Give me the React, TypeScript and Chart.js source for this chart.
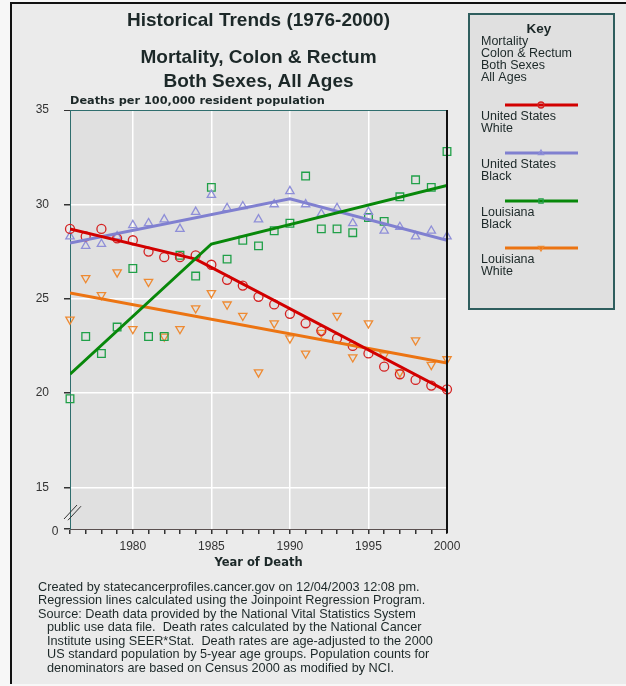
import React, { useEffect, useRef } from 'react';
import { Chart, registerables } from 'chart.js';

Chart.register(...registerables);

// ---------- data ----------
const years = [1976, 1977, 1978, 1979, 1980, 1981, 1982, 1983, 1984, 1985, 1986, 1987, 1988,
  1989, 1990, 1991, 1992, 1993, 1994, 1995, 1996, 1997, 1998, 1999, 2000];

const usWhite = [28.7, 28.3, 28.7, 28.2, 28.1, 27.5, 27.2, 27.2, 27.3, 26.8, 26.0, 25.7, 25.1,
  24.7, 24.2, 23.7, 23.3, 22.9, 22.5, 22.1, 21.4, 21.0, 20.7, 20.4, 20.2];
const usBlack = [28.3, 27.8, 27.9, 28.3, 28.9, 29.0, 29.2, 28.7, 29.6, 30.5, 29.8, 29.9, 29.2,
  30.0, 30.7, 30.0, 29.5, 29.8, 29.0, 29.6, 28.6, 28.8, 28.3, 28.6, 28.3];
const laBlack = [19.7, 23.0, 22.1, 23.5, 26.6, 23.0, 23.0, 27.3, 26.2, 30.9, 27.1, 28.1, 27.8,
  28.6, 29.0, 31.5, 28.7, 28.7, 28.5, 29.3, 29.1, 30.4, 31.3, 30.9, 32.8];
const laWhite = [23.9, 26.1, 25.2, 26.4, 23.4, 25.9, 23.0, 23.4, 24.5, 25.3, 24.7, 24.1, 21.1,
  23.7, 22.9, 22.1, 23.2, 24.1, 21.9, 23.7, 22.0, 21.1, 22.8, 21.5, 21.8];

// joinpoint regression lines
const usWhiteFitYears = [1976, 1984, 2000];
const usWhiteFit = [28.7, 27.1, 20.1];
const usBlackFitYears = [1976, 1990, 2000];
const usBlackFit = [27.95, 30.3, 28.1];
const laBlackFitYears = [1976, 1985, 2000];
const laBlackFit = [21.0, 27.9, 31.0];
const laWhiteFitYears = [1976, 2000];
const laWhiteFit = [25.3, 21.6];

const xTickLabels = ['1980', '1985', '1990', '1995', '2000'];
const yTickValues = [15, 20, 25, 30, 35];
const yBrokenBaseLabel = '0';

const seriesNames = [
  ['United States', 'White'],
  ['United States', 'Black'],
  ['Louisiana', 'Black'],
  ['Louisiana', 'White'],
];

const titleLines = ['Historical Trends (1976-2000)', 'Mortality, Colon & Rectum', 'Both Sexes, All Ages'];
const yAxisTitle = 'Deaths per 100,000 resident population';
const xAxisTitle = 'Year of Death';
const keyLines = ['Mortality', 'Colon & Rectum', 'Both Sexes', 'All Ages'];
const footerLines = [
  'Created by statecancerprofiles.cancer.gov on 12/04/2003 12:08 pm.',
  'Regression lines calculated using the Joinpoint Regression Program.',
  'Source: Death data provided by the National Vital Statistics System',
  'public use data file.  Death rates calculated by the National Cancer',
  'Institute using SEER*Stat.  Death rates are age-adjusted to the 2000',
  'US standard population by 5-year age groups. Population counts for',
  'denominators are based on Census 2000 as modified by NCI.',
];

// ---------- styles ----------
const FONT = "'Liberation Sans', Arial, sans-serif";
const WIDE_BOLD = "'DejaVu Sans', Verdana, sans-serif";
const lineColors = ['#d20000', '#8080d0', '#08880a', '#ec7412'];
const markColors = ['#d42222', '#8f8fd8', '#20a048', '#ee8a32'];
const markStyles = ['circle', 'triangle', 'rect', 'triangle'];
const markRot = [0, 0, 0, 180];
const markRadius = [4.5, 4.8, 5.4, 4.8];
const Y_MIN = 12.8;
const Y_MAX = 35;
const TEXT = '#1c2828';

function pts(xs: number[], ys: number[]) {
  return xs.map((x, i) => ({ x, y: ys[i] }));
}

function drawMark(ctx: CanvasRenderingContext2D, i: number, x: number, y: number, r: number) {
  ctx.save();
  ctx.strokeStyle = markColors[i];
  ctx.lineWidth = 1.3;
  ctx.beginPath();
  if (i === 0) {
    ctx.arc(x, y, r, 0, Math.PI * 2);
  } else if (i === 1) {
    ctx.moveTo(x, y - r);
    ctx.lineTo(x + r * 0.87, y + r * 0.5);
    ctx.lineTo(x - r * 0.87, y + r * 0.5);
    ctx.closePath();
  } else if (i === 2) {
    ctx.rect(x - r * 0.7, y - r * 0.7, r * 1.4, r * 1.4);
  } else {
    ctx.moveTo(x, y + r);
    ctx.lineTo(x + r * 0.87, y - r * 0.5);
    ctx.lineTo(x - r * 0.87, y - r * 0.5);
    ctx.closePath();
  }
  ctx.stroke();
  ctx.restore();
}

const decorPlugin = {
  id: 'decor',
  beforeDraw(chart: any) {
    const { ctx, chartArea, width, height } = chart;
    ctx.save();
    ctx.fillStyle = '#f7f7f7';
    ctx.fillRect(0, 0, width, height);
    ctx.fillStyle = '#ebebeb';
    ctx.fillRect(11, 3, width - 11, 681);
    ctx.strokeStyle = '#111';
    ctx.lineWidth = 2;
    ctx.beginPath();
    ctx.moveTo(11, 684);
    ctx.lineTo(11, 3);
    ctx.lineTo(width, 3);
    ctx.stroke();
    ctx.fillStyle = '#e0e0e0';
    ctx.fillRect(chartArea.left, chartArea.top, chartArea.right - chartArea.left, chartArea.bottom - chartArea.top);
    ctx.restore();
  },
  afterDraw(chart: any) {
    const { ctx, chartArea } = chart;
    const yScale = chart.scales.y;
    ctx.save();
    ctx.fillStyle = TEXT;
    ctx.textBaseline = 'middle';
    const cx = (chartArea.left + chartArea.right) / 2;

    // titles
    ctx.textAlign = 'center';
    ctx.font = `bold 19px ${FONT}`;
    ctx.fillText(titleLines[0], cx, 21);
    ctx.fillText(titleLines[1], cx, 58);
    ctx.fillText(titleLines[2], cx, 82);
    ctx.font = `bold 11.3px ${WIDE_BOLD}`;
    ctx.textAlign = 'left';
    ctx.fillText(yAxisTitle, chartArea.left, 101);
    ctx.textAlign = 'center';
    ctx.font = `bold 11.5px ${WIDE_BOLD}`;
    ctx.fillText(xAxisTitle, cx, 563);

    // right border
    ctx.strokeStyle = '#111';
    ctx.lineWidth = 2;
    ctx.beginPath();
    ctx.moveTo(chartArea.right, chartArea.top);
    ctx.lineTo(chartArea.right, chartArea.bottom + 4);
    ctx.stroke();

    // broken-axis base label and break marks
    ctx.font = `12px ${FONT}`;
    ctx.fillStyle = '#333';
    ctx.textAlign = 'center';
    ctx.fillText(yBrokenBaseLabel, 55, yScale.getPixelForValue(Y_MIN) + 3);
    const by = yScale.getPixelForValue(13.7);
    ctx.strokeStyle = '#333';
    ctx.lineWidth = 1;
    for (const off of [0, 4]) {
      ctx.beginPath();
      ctx.moveTo(chartArea.left - 6 + off, by + 7 + off * 0.3);
      ctx.lineTo(chartArea.left + 7 + off, by - 7 + off * 0.3);
      ctx.stroke();
    }

    // key box
    ctx.fillStyle = '#e0e0e0';
    ctx.fillRect(469, 14, 145, 295);
    ctx.strokeStyle = '#2f5e5e';
    ctx.lineWidth = 2;
    ctx.strokeRect(469, 14, 145, 295);
    ctx.fillStyle = TEXT;
    ctx.textAlign = 'center';
    ctx.font = `bold 13.5px ${FONT}`;
    ctx.fillText('Key', 539, 29);
    ctx.textAlign = 'left';
    ctx.font = `12.5px ${FONT}`;
    keyLines.forEach((t, i) => ctx.fillText(t, 481, 42 + i * 12));
    const legY = [105, 153, 201, 248];
    seriesNames.forEach((nm, i) => {
      const y = legY[i];
      ctx.strokeStyle = lineColors[i];
      ctx.lineWidth = 3;
      ctx.beginPath();
      ctx.moveTo(505, y);
      ctx.lineTo(578, y);
      ctx.stroke();
      drawMark(ctx, i, 541, y, 3);
      ctx.fillStyle = TEXT;
      ctx.font = `12.5px ${FONT}`;
      ctx.fillText(nm[0], 481, y + 12);
      ctx.fillText(nm[1], 481, y + 24);
    });

    // footer
    ctx.font = `12.7px ${FONT}`;
    ctx.fillStyle = TEXT;
    ctx.textAlign = 'left';
    footerLines.forEach((t, i) => {
      ctx.fillText(t, i < 3 ? 38 : 47, 587 + i * 13.5);
    });
    ctx.restore();
  },
};

export default function App() {
  const ref = useRef<HTMLCanvasElement>(null);
  useEffect(() => {
    document.body.style.margin = '0';
    const fits = [
      pts(laBlackFitYears, laBlackFit),
      pts(usWhiteFitYears, usWhiteFit),
      pts(usBlackFitYears, usBlackFit),
      pts(laWhiteFitYears, laWhiteFit),
    ];
    const fitIdx = [2, 0, 1, 3];
    const series = [usWhite, usBlack, laBlack, laWhite];
    const datasets: any[] = [];
    fits.forEach((d, k) => {
      const i = fitIdx[k];
      datasets.push({
        type: 'line',
        label: seriesNames[i].join(' ') + ' trend',
        data: d,
        borderColor: lineColors[i],
        borderWidth: 3,
        pointRadius: 0,
        tension: 0,
        fill: false,
      });
    });
    series.forEach((vals, i) => {
      datasets.push({
        type: 'line',
        label: seriesNames[i].join(' '),
        data: pts(years, vals),
        showLine: false,
        clip: false,
        borderColor: markColors[i],
        backgroundColor: 'rgba(0,0,0,0)',
        pointStyle: markStyles[i],
        pointRotation: markRot[i],
        pointRadius: markRadius[i],
        pointBorderWidth: 1.3,
        pointBorderColor: markColors[i],
        pointBackgroundColor: 'rgba(0,0,0,0)',
      });
    });

    const chart = new Chart(ref.current as HTMLCanvasElement, {
      type: 'line',
      data: { datasets },
      plugins: [decorPlugin],
      options: {
        animation: false,
        responsive: false,
        events: [],
        layout: { padding: { left: 0, right: 179, top: 110, bottom: 97 } },
        plugins: { legend: { display: false }, tooltip: { enabled: false }, title: { display: false } },
        scales: {
          x: {
            type: 'linear',
            min: 1976,
            max: 2000,
            afterFit: (s: any) => { s.height = 60; },
            ticks: {
              stepSize: 1,
              autoSkip: false,
              maxRotation: 0,
              padding: 5,
              color: '#333',
              font: { family: FONT, size: 12 },
              callback: (v: any) => (xTickLabels.includes(String(v)) ? String(v) : ''),
            },
            grid: {
              color: (c: any) => {
                const v = c.tick ? c.tick.value : 0;
                return v % 5 === 0 && v > 1976 && v < 2000 ? '#ffffff' : 'rgba(0,0,0,0)';
              },
              lineWidth: 1.5,
              tickColor: '#333',
              tickLength: 5,
              drawTicks: true,
            },
            border: { color: '#5a5050', width: 1 },
          },
          y: {
            type: 'linear',
            min: Y_MIN,
            max: Y_MAX,
            afterFit: (s: any) => { s.width = 70; },
            afterBuildTicks: (s: any) => {
              s.ticks = [Y_MIN, ...yTickValues].map((v) => ({ value: v }));
            },
            ticks: {
              padding: 15,
              color: '#333',
              font: { family: FONT, size: 12 },
              callback: (v: any) => (v === Y_MIN ? '' : String(v)),
            },
            grid: {
              color: (c: any) => {
                const v = c.tick ? c.tick.value : 0;
                if (v === Y_MAX) return '#2f6e6e';
                if (v === Y_MIN) return 'rgba(0,0,0,0)';
                return '#ffffff';
              },
              lineWidth: (c: any) => (c.tick && c.tick.value === Y_MAX ? 1 : 1.5),
              tickColor: '#333',
              tickLength: 6,
            },
            border: { color: '#2f6e6e', width: 1 },
          },
        },
      },
    } as any);
    return () => chart.destroy();
  }, []);

  return (
    <div style={{ width: 626, height: 686 }}>
      <canvas ref={ref} width={626} height={686} style={{ display: 'block', width: 626, height: 686 }} />
    </div>
  );
}
